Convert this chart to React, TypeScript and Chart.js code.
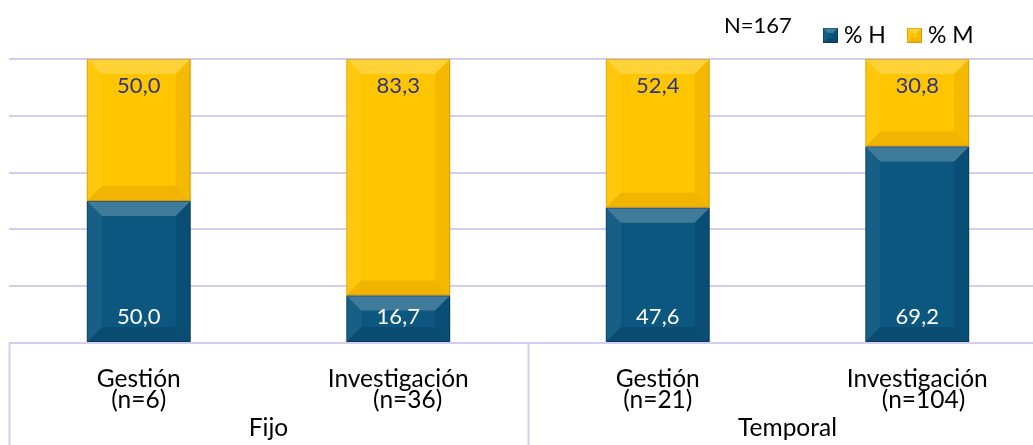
import React, { useEffect, useRef } from "react";
import { Chart, registerables } from "chart.js";

Chart.register(...registerables);

// ---- data ----
const categoryLabels: string[][] = [
  ["Gestión", "(n=6)"],
  ["Investigación", "   (n=36)"],
  ["Gestión", "(n=21)"],
  ["Investigación", "  (n=104)"],
];
const groupLabels = ["Fijo", "Temporal"];
const groupSizes = [2, 2];
const seriesNames = ["% H", "% M"];
const hombres = [50.0, 16.7, 47.6, 69.2];
const mujeres = [50.0, 83.3, 52.4, 30.8];
const totalLabel = "N=167";

const BLUE = "#0c5780";
const YELLOW = "#ffc600";
const GRID = "#d2cef2";
const FONT = "Lato, 'Open Sans', sans-serif";

const fmt = (v: number) => v.toFixed(1).replace(".", ",");

function bevel(ctx: CanvasRenderingContext2D, l: number, t: number, r: number, b: number, size: number, dark: string) {
  const s = Math.min(size, (r - l) / 2, (b - t) / 2);
  const poly = (pts: number[][], fill: string | CanvasGradient) => {
    ctx.beginPath();
    ctx.moveTo(pts[0][0], pts[0][1]);
    for (let i = 1; i < pts.length; i++) ctx.lineTo(pts[i][0], pts[i][1]);
    ctx.closePath();
    ctx.fillStyle = fill;
    ctx.fill();
  };
  ctx.save();
  poly([[l, t], [r, t], [r - s, t + s], [l + s, t + s]], "rgba(255,255,255,0.22)");
  poly([[l, t], [l + s, t + s], [l + s, b - s], [l, b]], "rgba(255,255,255,0.05)");
  poly([[r, t], [r, b], [r - s, b - s], [r - s, t + s]], dark.replace("A", "0.12"));
  poly([[l, b], [l + s, b - s], [r - s, b - s], [r, b]], dark.replace("A", "0.16"));
  ctx.strokeStyle = dark.replace("A", "0.3");
  ctx.lineWidth = 1;
  ctx.strokeRect(l + 0.5, t + 0.5, r - l - 1, b - t - 1);
  ctx.restore();
}

const decorPlugin = {
  id: "decor",
  afterDatasetsDraw(chart: any) {
    const ctx: CanvasRenderingContext2D = chart.ctx;
    chart.data.datasets.forEach((ds: any, di: number) => {
      const meta = chart.getDatasetMeta(di);
      const dark = di === 0 ? "rgba(0,20,40,A)" : "rgba(170,90,0,A)";
      meta.data.forEach((el: any, i: number) => {
        const p = el.getProps(["x", "y", "base", "width"], true);
        const l = p.x - p.width / 2;
        const r = p.x + p.width / 2;
        const t = Math.min(p.y, p.base);
        const b = Math.max(p.y, p.base);
        bevel(ctx, l, t, r, b, 15, dark);
        ctx.save();
        ctx.font = `22px ${FONT}`;
        ctx.textAlign = "center";
        ctx.textBaseline = "middle";
        if (di === 0) {
          ctx.fillStyle = "#ffffff";
          ctx.fillText(fmt(ds.data[i]), p.x, b - 25);
        } else {
          ctx.fillStyle = "#2e3487";
          ctx.fillText(fmt(ds.data[i]), p.x, t + 27);
        }
        ctx.restore();
      });
    });
  },
  afterDraw(chart: any) {
    const ctx: CanvasRenderingContext2D = chart.ctx;
    const xs = chart.scales.x;
    const area = chart.chartArea;
    const n = chart.data.labels.length;
    const cw = (xs.right - xs.left) / n;
    ctx.save();
    ctx.strokeStyle = GRID;
    ctx.lineWidth = 2;
    let start = 0;
    const bounds = [0];
    groupSizes.forEach((g) => { start += g; bounds.push(start); });
    bounds.forEach((k) => {
      const x = Math.round(xs.left + k * cw) + 0.5;
      ctx.beginPath();
      ctx.moveTo(x, area.bottom);
      ctx.lineTo(x, chart.height);
      ctx.stroke();
    });
    ctx.fillStyle = "#000000";
    ctx.font = `24.5px ${FONT}`;
    ctx.textAlign = "center";
    ctx.textBaseline = "alphabetic";
    groupLabels.forEach((g, gi) => {
      const x = xs.left + ((bounds[gi] + bounds[gi + 1]) / 2) * cw;
      ctx.fillText(g, x, 436);
    });
    ctx.textAlign = "left";
    ctx.font = `22px ${FONT}`;
    ctx.fillText(totalLabel, 724, 33);
    const colors = [BLUE, YELLOW];
    const darks = ["rgba(0,20,40,A)", "rgba(170,90,0,A)"];
    const lx = [823, 907];
    seriesNames.forEach((name, i) => {
      ctx.fillStyle = colors[i];
      ctx.fillRect(lx[i], 28, 15, 15);
      bevel(ctx, lx[i], 28, lx[i] + 15, 43, 5, darks[i]);
      ctx.fillStyle = "#000000";
      ctx.font = `23px ${FONT}`;
      ctx.textAlign = "left";
      ctx.fillText(name, lx[i] + 21, 43);
    });
    ctx.restore();
  },
};

export default function App() {
  const ref = useRef<HTMLCanvasElement | null>(null);
  useEffect(() => {
    if (!ref.current) return;
    const chart = new Chart(ref.current, {
      type: "bar",
      data: {
        labels: categoryLabels,
        datasets: [
          { label: seriesNames[0], data: hombres, backgroundColor: BLUE, borderWidth: 0 },
          { label: seriesNames[1], data: mujeres, backgroundColor: YELLOW, borderWidth: 0 },
        ],
      },
      options: {
        responsive: false,
        animation: false,
        devicePixelRatio: 1,
        layout: { padding: { left: 9, right: 13, top: 59, bottom: 0 } },
        datasets: { bar: { categoryPercentage: 1, barPercentage: 0.4 } },
        plugins: { legend: { display: false }, tooltip: { enabled: false } },
        scales: {
          x: {
            stacked: true,
            grid: { display: false, drawTicks: false },
            border: { display: false },
            ticks: {
              color: "#000000",
              padding: 25,
              maxRotation: 0,
              autoSkip: false,
              font: { family: FONT, size: 24.5, lineHeight: 0.87 },
            },
            afterFit: (s: any) => { s.height = 102; },
          },
          y: {
            stacked: true,
            min: 0,
            max: 100,
            ticks: { display: false, stepSize: 20 },
            grid: { color: GRID, lineWidth: 2, drawTicks: false },
            border: { display: false },
          },
        },
      },
      plugins: [decorPlugin],
    } as any);
    return () => chart.destroy();
  }, []);
  return (
    <div style={{ position: "fixed", left: 0, top: 0, width: 1033, height: 445, overflow: "hidden", background: "#fff" }}>
      <canvas ref={ref} width={1060} height={445} style={{ display: "block", width: 1060, height: 445 }} />
    </div>
  );
}
